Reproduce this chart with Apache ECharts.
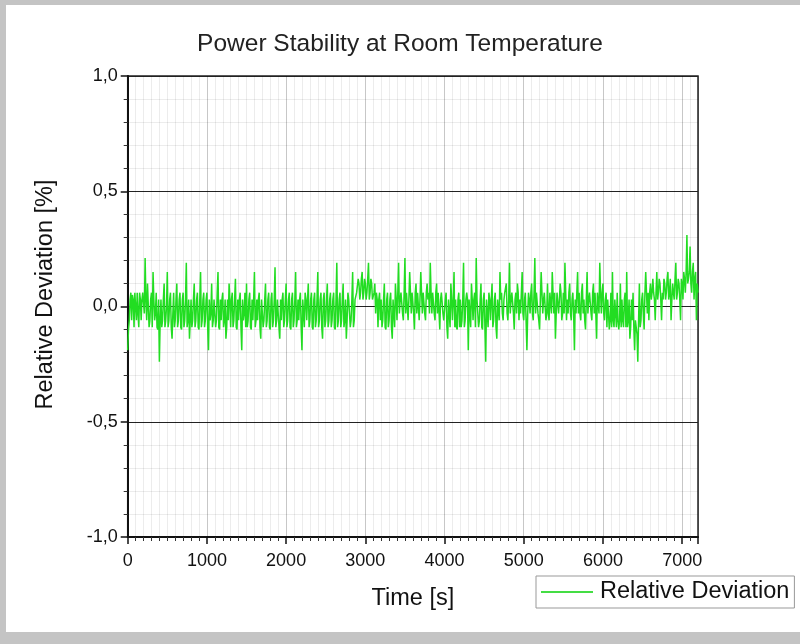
<!DOCTYPE html>
<html>
<head>
<meta charset="utf-8">
<style>html,body{margin:0;padding:0;background:#fff;}#c{width:800px;height:644px;}</style>
<script src="https://cdn.jsdelivr.net/npm/echarts@6/dist/echarts.min.js"></script>
</head>
<body>
<div id="c"></div>
<script>
var titleText = 'Power Stability at Room Temperature';
var seriesName = 'Relative Deviation';
var xAxisName = 'Time [s]';
var yAxisName = 'Relative Deviation [%]';
var timeStep = 10; // seconds between samples
var deviation = [
 -0.19,-0.1,-0.06,0.03,0.06,-0.06,0.05,0.03,-0.09,0.06,
 0,-0.06,0.06,-0.03,-0.09,0.06,0.03,-0.06,0.03,0.06,
 0.06,-0.03,0.21,0.03,-0.06,0.1,0.1,-0.09,-0.06,0.03,
 0.06,-0.09,0.15,0.03,-0.06,-0.03,0.06,-0.09,-0.1,0.03,
 -0.24,-0.06,0.03,-0.09,-0.06,0.03,0.1,-0.09,-0.06,0,
 0.15,-0.09,-0.06,0.03,0.06,-0.09,-0.14,-0.03,0.06,-0.09,
 -0.06,0.03,0.1,-0.09,-0.06,0.03,0.06,-0.09,-0.1,0.03,
 0.06,-0.09,-0.06,0.03,0.19,-0.09,-0.06,0.03,-0.14,-0.06,
 0.03,-0.09,-0.06,0.03,0.1,-0.09,-0.06,0.03,0.06,-0.09,
 -0.1,0.03,0.15,-0.09,-0.06,0.03,0.06,-0.09,-0.06,0.03,
 0.06,-0.09,-0.19,0.03,-0.06,-0.03,0.1,-0.09,-0.06,0.03,
 0.03,-0.09,-0.06,0.06,0.15,-0.09,-0.1,0.03,-0.06,0.03,
 0.06,-0.09,-0.06,0.03,-0.14,-0.09,0.03,-0.06,0.1,0.03,
 -0.09,0.03,0.06,-0.09,-0.06,0.03,0.12,-0.09,-0.1,0.03,
 -0.06,0.03,0.06,-0.09,-0.19,0.03,-0.06,-0.03,0.06,-0.09,
 0.1,-0.09,-0.06,0.03,0.06,-0.09,-0.1,0.03,-0.06,0.03,
 0.15,-0.09,-0.06,0.03,-0.06,0.03,0.06,-0.09,-0.14,0.03,
 0.03,-0.09,-0.06,0.03,0.1,-0.09,-0.06,0.03,0.06,-0.09,
 -0.1,0.03,0.06,-0.09,-0.06,0.03,0.17,-0.09,-0.06,0.03,
 0.03,-0.09,-0.14,0.03,-0.06,0.03,0.06,-0.09,-0.06,0.03,
 0.1,-0.09,-0.06,0.03,0.06,-0.09,-0.1,0.03,0.06,-0.09,
 -0.06,0.03,0.15,-0.09,-0.06,0.03,-0.06,0.03,0.06,-0.09,
 -0.19,0.03,0.03,-0.09,0.06,0.03,-0.06,0.03,0.1,-0.09,
 -0.06,0.03,0.06,-0.09,-0.1,0.03,0.06,-0.09,-0.06,0.03,
 0.15,-0.09,-0.06,0.03,0.06,-0.09,-0.14,0.03,0.06,-0.09,
 -0.06,0.03,0.1,-0.09,-0.06,0.03,0.06,-0.09,-0.06,0.03,
 0.06,-0.09,-0.1,0.03,0.19,-0.09,-0.06,0.03,0.06,-0.09,
 -0.06,0.03,0.1,-0.09,-0.06,0.03,-0.14,-0.06,0.06,0.03,
 0.03,-0.09,-0.06,0.03,0.15,-0.09,-0.06,0.03,0.03,0.06,
 0.06,0.12,0.1,0.03,0.06,0.12,0.15,0.03,0.06,0.12,
 0.1,0.03,0.06,0.12,0.19,0.03,0.06,0.12,0.1,0.03,
 0.03,0.06,0.1,-0.03,0.06,0.03,-0.09,0.03,0.06,-0.06,
 0.03,-0.09,-0.06,0.03,0.1,-0.09,-0.1,0.03,0.06,-0.09,
 -0.06,0.03,0.06,-0.09,-0.14,0.03,0.03,-0.09,0.1,0.03,
 -0.06,0.06,0.19,-0.03,0.03,0.06,0.06,-0.03,-0.06,0.06,
 0.21,-0.03,0.06,0.06,-0.06,0.03,0.15,0.06,-0.03,0.06,
 0.06,-0.03,-0.1,0.06,0.1,-0.03,0.06,0.06,-0.06,0.03,
 0.15,0.06,-0.03,0.06,0.06,-0.03,-0.06,0.06,0.1,0.03,
 0.06,-0.03,0.19,0.06,-0.03,0.06,0.06,-0.03,-0.06,0.06,
 0.1,-0.03,0.06,0.06,-0.1,0.03,0.06,0.06,-0.03,-0.06,
 -0.06,0.03,0.06,-0.09,-0.14,0.03,0.03,-0.09,0.1,0.03,
 -0.06,0.03,0.15,-0.09,0.03,-0.09,-0.1,0.03,0.06,-0.09,
 0.03,-0.09,-0.06,0.03,0.19,-0.09,-0.06,0.03,0.06,0.03,
 -0.19,0.03,0.03,-0.09,0.1,0.03,-0.06,0.03,0.06,-0.09,
 0.21,0.03,0.03,-0.09,-0.06,0.03,0.1,-0.09,-0.1,0.03,
 0.06,-0.09,-0.24,0.03,0.03,-0.09,0.06,0.03,-0.06,0.03,
 0.1,-0.09,-0.06,0.03,0.06,-0.09,-0.14,0.03,0.03,-0.06,
 0.15,0.03,0.06,-0.03,-0.06,0.03,0.06,0.06,0.1,-0.03,
 -0.06,0.03,0.19,-0.03,0.03,0.06,0.06,-0.03,-0.1,0.03,
 0.06,-0.03,0.1,0.06,-0.06,0.03,-0.03,0.06,0.15,-0.03,
 -0.06,0.03,0.06,0.06,-0.19,-0.03,0.06,0.03,-0.03,0.06,
 0.1,-0.03,-0.06,0.06,0.21,-0.03,0.06,0.06,-0.03,-0.06,
 -0.1,0.03,0.15,0.06,-0.03,0.03,0.06,0.06,-0.06,-0.03,
 0.1,-0.03,-0.06,0.06,0.06,-0.03,0.15,0.06,-0.03,0.06,
 -0.14,-0.03,0.06,0.06,-0.03,0.03,0.1,0.06,-0.06,-0.03,
 0.06,-0.03,0.19,0.06,-0.06,0.03,-0.03,0.06,0.1,-0.03,
 -0.06,0.03,0.06,-0.03,-0.19,0.03,-0.03,0.06,0.15,-0.03,
 0.06,-0.03,-0.06,0.06,0.1,-0.03,0.03,-0.06,-0.1,0.03,
 0.15,-0.03,0.03,0.06,0.06,-0.03,-0.06,0.06,0.1,-0.03,
 0.06,-0.03,-0.14,0.06,0.06,-0.03,0.19,0.06,-0.03,0.06,
 0.1,-0.03,-0.06,0.03,0.06,-0.09,0.03,-0.03,-0.1,-0.06,
 0.06,-0.09,0.15,-0.06,-0.09,0.03,0.03,-0.09,0.06,-0.06,
 -0.1,-0.06,0.1,-0.09,0.03,-0.06,-0.09,0.03,0.06,-0.09,
 0.15,-0.09,-0.06,0.03,-0.14,-0.09,0.03,-0.06,0.06,-0.09,
 -0.19,-0.06,-0.09,-0.12,-0.24,-0.06,0.1,-0.09,-0.06,0.03,
 0.06,-0.03,-0.1,0.06,0.15,0.06,-0.03,0.06,-0.06,0.06,
 0.1,0.03,0.06,0.12,0.06,0.03,-0.06,0.06,0.15,0.03,
 0.06,0.12,0.1,0.03,-0.06,0.06,0.03,0.12,0.1,0.03,
 0.06,0.12,0.15,0.03,0.06,0.12,-0.06,0.03,0.1,0.06,
 0.03,0.12,0.19,0.03,0.06,0.12,0.1,0.03,-0.06,0.12,
 0.1,0.03,0.15,0.12,0.06,0.15,0.31,0.1,0.12,0.15,
 0.26,0.1,0.06,0.15,0.19,0.03,0.12,0.15,-0.06,0.1,
 0.06
];
var xMin = 0, xMax = 7200, xInterval = 1000;
var yMin = -1, yMax = 1, yInterval = 0.5;

var points = deviation.map(function (v, i) { return [i * timeStep, v]; });

var chart = echarts.init(document.getElementById('c'), null, {renderer: 'canvas'});
var font = '"Liberation Sans", Arial, sans-serif';
var minorGrid = 'rgba(0,0,0,0.075)';
chart.setOption({
  backgroundColor: '#ffffff',
  animation: false,
  textStyle: {fontFamily: font},
  graphic: [
    {type: 'rect', shape: {x: 0, y: 0, width: 800, height: 5}, style: {fill: '#c4c4c4'}, silent: true},
    {type: 'rect', shape: {x: 0, y: 0, width: 6, height: 644}, style: {fill: '#c4c4c4'}, silent: true},
    {type: 'rect', shape: {x: 0, y: 632, width: 800, height: 12}, style: {fill: '#c4c4c4'}, silent: true}
  ],
  title: {
    text: titleText,
    left: 'center',
    top: 27,
    textStyle: {fontFamily: font, fontSize: 24.5, fontWeight: 'normal', color: '#222'}
  },
  legend: {
    data: [seriesName],
    left: 536,
    top: 576,
    padding: [2, 5, 2, 5],
    borderColor: '#999',
    borderWidth: 1,
    icon: 'rect',
    itemWidth: 52,
    itemHeight: 2,
    itemGap: 0,
    itemStyle: {color: '#44dd44'},
    textStyle: {fontFamily: font, fontSize: 23.5, lineHeight: 28, color: '#111', padding: [0, 0, 0, 2]}
  },
  grid: {
    left: 127.7, right: 102, top: 76, bottom: 107,
    show: true, borderColor: '#222', borderWidth: 1.5, backgroundColor: 'transparent'
  },
  xAxis: {
    type: 'value',
    min: xMin, max: xMax, interval: xInterval,
    name: xAxisName,
    nameLocation: 'middle',
    nameGap: 50,
    nameTextStyle: {fontFamily: font, fontSize: 23.5, color: '#111'},
    axisLine: {show: true, onZero: false, lineStyle: {color: '#111', width: 2}},
    axisTick: {show: true, length: 7, lineStyle: {color: '#111', width: 1.5}},
    minorTick: {show: true, splitNumber: 10, length: 4, lineStyle: {color: '#333'}},
    axisLabel: {fontFamily: font, fontSize: 18, color: '#111', margin: 15,
      showMaxLabel: false, formatter: function (v) { return String(v); }},
    splitLine: {show: true, lineStyle: {color: 'rgba(0,0,0,0.22)', width: 1}},
    minorSplitLine: {show: true, lineStyle: {color: minorGrid, width: 1}}
  },
  yAxis: {
    type: 'value',
    min: yMin, max: yMax, interval: yInterval,
    name: yAxisName,
    nameLocation: 'middle',
    nameGap: 70,
    nameTextStyle: {fontFamily: font, fontSize: 23.5, color: '#111', padding: [0, 0, 0, 24]},
    axisLine: {show: true, onZero: false, lineStyle: {color: '#111', width: 2}},
    axisTick: {show: true, length: 7, lineStyle: {color: '#111', width: 1.5}},
    minorTick: {show: true, splitNumber: 5, length: 4, lineStyle: {color: '#333'}},
    axisLabel: {fontFamily: font, fontSize: 18, color: '#111', margin: 10,
      formatter: function (v) { return v.toFixed(1).replace('.', ','); }},
    splitLine: {show: true, lineStyle: {color: '#222', width: 1}},
    minorSplitLine: {show: true, lineStyle: {color: minorGrid, width: 1}}
  },
  series: [{
    name: seriesName,
    type: 'line',
    data: points,
    symbol: 'none',
    sampling: null,
    lineStyle: {color: '#22dd22', width: 1.5},
    itemStyle: {color: '#22dd22'},
    z: 3
  }]
});
</script>
</body>
</html>
